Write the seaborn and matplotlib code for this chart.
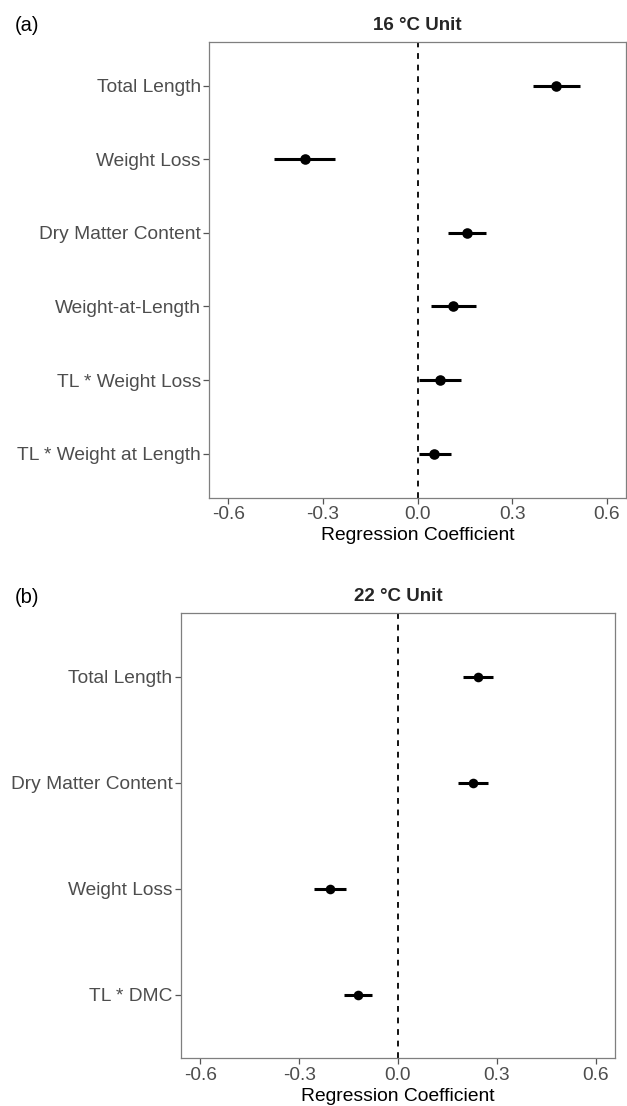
import matplotlib
matplotlib.use("Agg")
import matplotlib.pyplot as plt
import seaborn as sns
import pandas as pd

sns.set_theme(style="white")
plt.rcParams['font.family'] = ['Liberation Sans', 'DejaVu Sans']

# Panel (a) 16 °C Unit
labels_a = ["Total Length", "Weight Loss", "Dry Matter Content", "Weight-at-Length",
            "TL * Weight Loss", "TL * Weight at Length"]
coef_a = [0.439, -0.358, 0.155, 0.113, 0.072, 0.053]
lo_a = [0.366, -0.456, 0.096, 0.042, 0.005, 0.004]
hi_a = [0.514, -0.262, 0.215, 0.185, 0.138, 0.105]

# Panel (b) 22 °C Unit
labels_b = ["Total Length", "Dry Matter Content", "Weight Loss", "TL * DMC"]
coef_b = [0.243, 0.227, -0.206, -0.121]
lo_b = [0.196, 0.183, -0.255, -0.165]
hi_b = [0.290, 0.272, -0.159, -0.078]

xticks = [-0.6, -0.3, 0.0, 0.3, 0.6]
xticklabels = ["-0.6", "-0.3", "0.0", "0.3", "0.6"]

fig = plt.figure(figsize=(6.27, 11.06), dpi=100)
ax_a = fig.add_axes([0.3338, 0.55, 0.6646, 0.4123])
ax_b = fig.add_axes([0.2882, 0.0431, 0.6931, 0.4024])

def draw(ax, labels, coef, lo, hi, title, msize):
    df = pd.DataFrame({"label": labels, "coef": coef, "lo": lo, "hi": hi})
    ax.axvline(0, color="black", linestyle=(0, (3.2, 3.2)), linewidth=1.3, zorder=1)
    ax.hlines(y=df["label"], xmin=df["lo"], xmax=df["hi"], color="black",
              linewidth=2.2, zorder=2)
    sns.scatterplot(data=df, x="coef", y="label", ax=ax, color="black", s=msize,
                    edgecolor="black", linewidth=0, zorder=3)
    n = len(labels)
    ax.set_ylim(n - 1 + 0.6, -0.6)
    ax.set_xlim(-0.66, 0.66)
    ax.set_xticks(xticks)
    ax.set_xticklabels(xticklabels)
    ax.set_ylabel("")
    ax.set_xlabel("Regression Coefficient", fontsize=13.9, color="black", labelpad=3)
    ax.set_title(title, fontsize=13.5, fontweight="bold", pad=8.5)
    ax.tick_params(axis="both", which="both", length=4, width=0.9, color="#555555",
                   labelcolor="#4D4D4D", labelsize=13.8, pad=2,
                   bottom=True, left=True)
    for sp in ax.spines.values():
        sp.set_color("#7F7F7F")
        sp.set_linewidth(0.9)
    ax.grid(False)
    return ax

draw(ax_a, labels_a, coef_a, lo_a, hi_a, "16 °C Unit", 58)
draw(ax_b, labels_b, coef_b, lo_b, hi_b, "22 °C Unit", 48)

fig.text(0.024, 0.9765, "(a)", fontsize=14.5, color="black", va="center", ha="left")
fig.text(0.024, 0.4595, "(b)", fontsize=14.5, color="black", va="center", ha="left")

fig.savefig("out.png", dpi=100, facecolor="white")
